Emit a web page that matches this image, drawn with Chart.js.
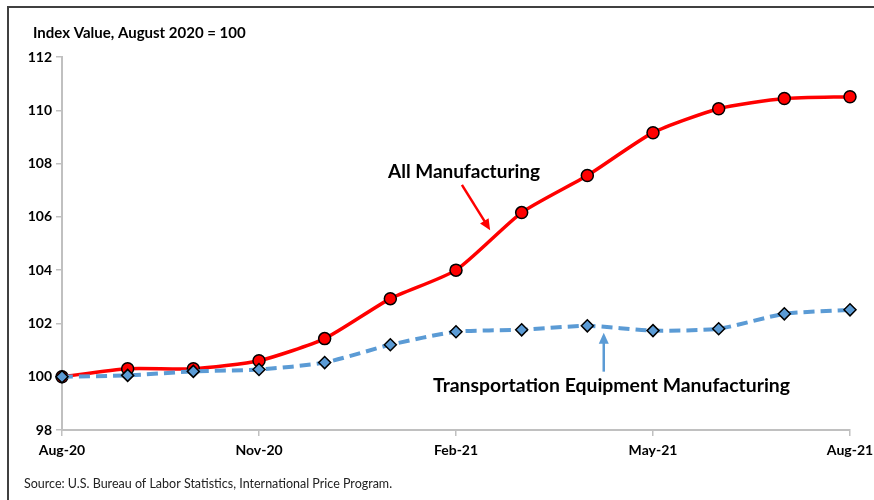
<!DOCTYPE html>
<html lang="en">
<head>
  <meta charset="UTF-8">
  <title>Import price index: manufacturing</title>
  <script src="https://cdn.jsdelivr.net/npm/chart.js"></script>
  <style>
    body { margin: 0; background: #fff; }
    #wrap { position: relative; width: 874px; height: 500px; }
    #frame { position: absolute; left: 7px; top: 6px; right: -2px; bottom: -2px;
             border-left: 2px solid #404040; border-top: 2px solid #404040; pointer-events: none; }
  </style>
</head>
<body>
  <div id="wrap">
    <canvas id="myChart" width="874" height="500"></canvas>
    <div id="frame"></div>
  </div>

  <script>
    // months, Aug-20 .. Aug-21
    const months = ['Aug-20', 'Sep-20', 'Oct-20', 'Nov-20', 'Dec-20', 'Jan-21', 'Feb-21',
                    'Mar-21', 'Apr-21', 'May-21', 'Jun-21', 'Jul-21', 'Aug-21'];
    const shownMonths = ['Aug-20', 'Nov-20', 'Feb-21', 'May-21', 'Aug-21'];

    const allManufacturing = [100.0, 100.3, 100.3, 100.6, 101.43, 102.93, 104.0,
                              106.16, 107.55, 109.16, 110.06, 110.44, 110.51];
    const transportEquipment = [100.0, 100.05, 100.2, 100.27, 100.53, 101.2, 101.69,
                                101.76, 101.91, 101.73, 101.8, 102.36, 102.51];

    const yTicks = [98, 100, 102, 104, 106, 108, 110, 112];

    const FONT = 'Lato, "Open Sans", sans-serif';

    // text labels, arrows and source line
    const notes = {
      id: 'notes',
      afterDatasetsDraw(chart) {
        const { ctx, scales: { x, y } } = chart;
        ctx.save();

        ctx.fillStyle = '#000';
        ctx.font = 'bold 15px ' + FONT;
        ctx.textBaseline = 'middle';
        ctx.fillText('Index Value, August 2020 = 100', 33, 33);

        ctx.font = 'bold 19px ' + FONT;
        ctx.fillText('All Manufacturing', 388, 172);
        ctx.font = 'bold 19.4px ' + FONT;
        ctx.fillText('Transportation Equipment Manufacturing', 433, 386);

        ctx.font = '12.5px ' + FONT;
        ctx.fillStyle = '#222';
        ctx.fillText('Source: U.S. Bureau of Labor Statistics, International Price Program.', 24, 484);

        const arrow = (x1, y1, x2, y2, color) => {
          const a = Math.atan2(y2 - y1, x2 - x1);
          ctx.strokeStyle = color;
          ctx.fillStyle = color;
          ctx.lineWidth = 2.5;
          ctx.beginPath();
          ctx.moveTo(x1, y1);
          ctx.lineTo(x2 - 8 * Math.cos(a), y2 - 8 * Math.sin(a));
          ctx.stroke();
          ctx.beginPath();
          ctx.moveTo(x2, y2);
          ctx.lineTo(x2 - 11 * Math.cos(a) + 5 * Math.sin(a), y2 - 11 * Math.sin(a) - 5 * Math.cos(a));
          ctx.lineTo(x2 - 11 * Math.cos(a) - 5 * Math.sin(a), y2 - 11 * Math.sin(a) + 5 * Math.cos(a));
          ctx.closePath();
          ctx.fill();
        };
        arrow(x.getPixelForValue(6.09), y.getPixelForValue(107.2),
              x.getPixelForValue(6.52), y.getPixelForValue(105.5), '#ff0000');
        arrow(x.getPixelForValue(8.25), y.getPixelForValue(100.19),
              x.getPixelForValue(8.25), y.getPixelForValue(101.65), '#5b9bd5');

        ctx.restore();
      }
    };

    const ctx = document.getElementById('myChart').getContext('2d');
    new Chart(ctx, {
      type: 'line',
      data: {
        labels: months,
        datasets: [{
          label: 'Transportation Equipment Manufacturing',
          data: transportEquipment,
          borderColor: '#5b9bd5',
          borderWidth: 4,
          borderDash: [11, 6],
          tension: 0.2,
          pointStyle: 'rectRot',
          pointRadius: 6,
          pointBackgroundColor: '#5b9bd5',
          pointBorderColor: '#000',
          pointBorderWidth: 1.5
        }, {
          label: 'All Manufacturing',
          data: allManufacturing,
          borderColor: '#ff0000',
          borderWidth: 3.5,
          tension: 0.2,
          pointStyle: 'circle',
          pointRadius: 6,
          pointBackgroundColor: '#ff0000',
          pointBorderColor: '#000',
          pointBorderWidth: 1.5
        }]
      },
      options: {
        responsive: false,
        animation: false,
        layout: { padding: { left: 0, right: 24, top: 57, bottom: 0 } },
        plugins: { legend: { display: false }, tooltip: { enabled: false } },
        scales: {
          x: {
            afterFit(scale) {
              scale.height = 70;
              scale.paddingLeft = 0;
              scale.paddingRight = 0;
            },
            grid: {
              drawOnChartArea: false,
              tickLength: 6,
              color: '#c0c0c0',
              lineWidth: 1.5
            },
            border: { color: '#c0c0c0', width: 2 },
            ticks: {
              autoSkip: false,
              maxRotation: 0,
              padding: 6,
              color: '#000',
              font: { family: FONT, size: 14, weight: 'bold' },
              callback(val) {
                const m = months[val];
                return shownMonths.includes(m) ? m : null;
              }
            }
          },
          y: {
            min: 98,
            max: 112,
            afterFit(scale) { scale.width = 62; },
            afterBuildTicks(scale) { scale.ticks = yTicks.map(v => ({ value: v })); },
            grid: {
              drawOnChartArea: false,
              tickLength: 6,
              color: '#c0c0c0',
              lineWidth: 1.5
            },
            border: { color: '#c0c0c0', width: 2 },
            ticks: {
              padding: 4,
              color: '#000',
              font: { family: FONT, size: 14, weight: 'bold' }
            }
          }
        }
      },
      plugins: [notes]
    });
  </script>
</body>
</html>
